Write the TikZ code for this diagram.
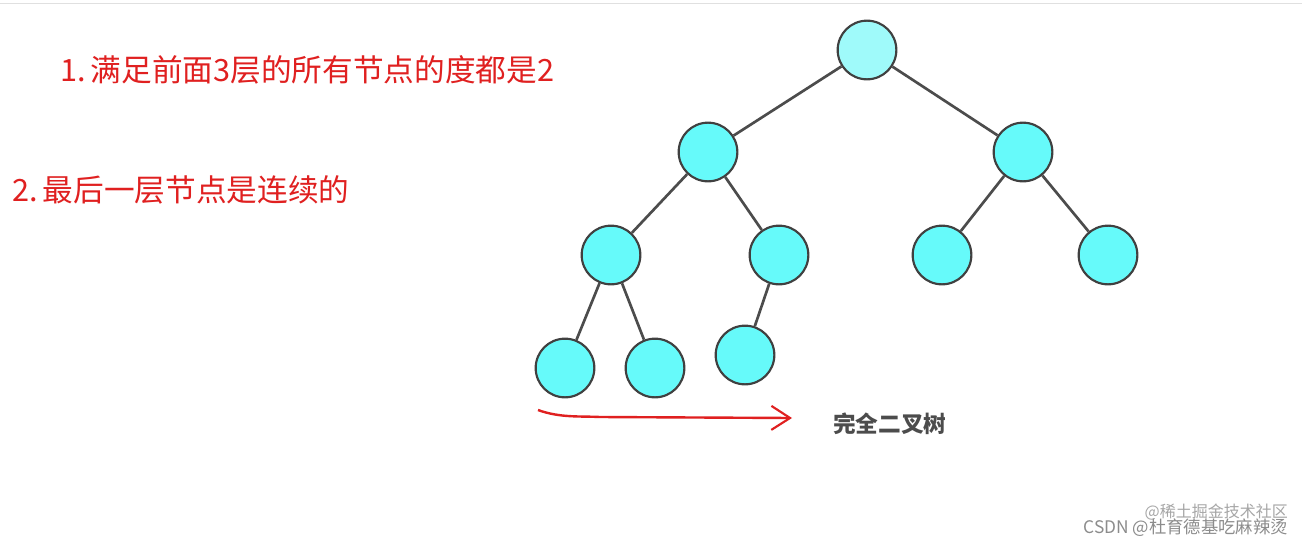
\documentclass[tikz,border=0pt]{standalone}
\usepackage{fontspec}
\newfontfamily\cjk{Noto Sans CJK SC}
\usetikzlibrary{arrows.meta}
\definecolor{nodec}{HTML}{66FAFA}
\definecolor{rootc}{HTML}{9FFAFA}
\definecolor{redt}{HTML}{E02020}
\begin{document}
\begin{tikzpicture}[x=0.75pt,y=-0.75pt,
  tn/.style={circle,draw=black!75,line width=1.6pt,fill=nodec,minimum size=44pt,inner sep=0pt},
  ed/.style={draw=black!70,line width=2pt}]
\useasboundingbox (0,0) rectangle (1302,546);
\fill[white] (0,0) rectangle (1302,546);
\draw[black!12] (0,3) -- (1302,3);
\node[tn,fill=rootc] (r) at (867,50) {};
\node[tn] (a) at (708,152) {};
\node[tn] (b) at (1023,152) {};
\node[tn] (c) at (611,255) {};
\node[tn] (d) at (779,255) {};
\node[tn] (e) at (942,255) {};
\node[tn] (f) at (1108,255) {};
\node[tn] (g) at (565,368) {};
\node[tn] (h) at (655,368) {};
\node[tn] (i) at (745,355) {};
\foreach \u/\v in {r/a,r/b,a/c,a/d,b/e,b/f,c/g,c/h,d/i}
  \draw[ed] (\u) -- (\v);
\node[anchor=west,text=redt,font=\cjk\fontsize{23}{26}\selectfont,inner sep=0pt] (t1) at (60,70) {1.\,满足前面3层的所有节点的度都是2};
\node[anchor=west,text=redt,font=\cjk\fontsize{23}{26}\selectfont,inner sep=0pt] (t2) at (12,190) {2.\,最后一层节点是连续的};
\node[anchor=west,text=black!70,font=\cjk\bfseries\fontsize{17}{20}\selectfont,inner sep=0pt] (lbl) at (833,424) {完全二叉树};
\coordinate (s) at (538,410);
\coordinate (t) at (792,418);
\draw[redt,line width=1.8pt,-{Straight Barb[length=14pt,width=18pt,line width=1.6pt]}] (s) .. controls (560,418) and (580,416) .. (600,417) -- (t);
\node[anchor=east,text=black!35,font=\cjk\fontsize{12}{14}\selectfont,inner sep=0pt] (w2) at (1288,512) {@稀土掘金技术社区};
\node[anchor=east,text=black!45,font=\cjk\fontsize{13}{15}\selectfont,inner sep=0pt] (w1) at (1288,528) {CSDN @杜育德基吃麻辣烫};
\end{tikzpicture}
\end{document}
